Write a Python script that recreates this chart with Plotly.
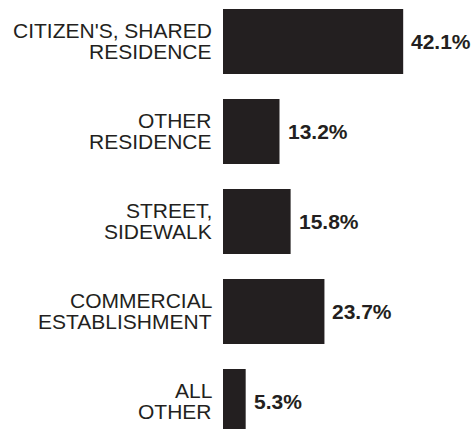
import plotly.graph_objects as go

categories = ["CITIZEN'S, SHARED\nRESIDENCE", "OTHER\nRESIDENCE", "STREET,\nSIDEWALK",
              "COMMERCIAL\nESTABLISHMENT", "ALL\nOTHER"]
values = [42.1, 13.2, 15.8, 23.7, 5.3]
value_labels = ["42.1%", "13.2%", "15.8%", "23.7%", "5.3%"]

BAR = "#231f20"
FONT = "Liberation Sans, Arial, sans-serif"
pos = list(range(len(categories)))

fig = go.Figure(go.Bar(
    x=values, y=pos, orientation="h", width=0.722,
    marker=dict(color=BAR, line=dict(width=0)),
    hoverinfo="skip",
))

ann = []
LS = 21
for i, (cat, v, vl) in enumerate(zip(categories, values, value_labels)):
    lines = cat.split("\n")
    n = len(lines)
    for j, line in enumerate(lines):
        shift = ((n - 1) / 2 - j) * LS
        ann.append(dict(x=0, y=i, xref="x", yref="y", text=line, showarrow=False,
                        xanchor="right", yanchor="middle", xshift=-9, yshift=shift,
                        font=dict(family=FONT, size=21, color=BAR)))
    ann.append(dict(x=v, y=i, xref="x", yref="y", text="<b>" + vl + "</b>", showarrow=False,
                    xanchor="left", yanchor="middle", xshift=6,
                    font=dict(family=FONT, size=21, color=BAR)))

fig.update_layout(
    width=472, height=429,
    margin=dict(l=223, r=35, t=0, b=0),
    paper_bgcolor="white", plot_bgcolor="white",
    showlegend=False,
    xaxis=dict(range=[0, 50], visible=False, fixedrange=True),
    yaxis=dict(range=[4.306, -0.461], visible=False, fixedrange=True),
    annotations=ann,
)

fig.write_html("out.html", config={"displayModeBar": False, "staticPlot": True},
               post_script="document.body.style.margin='0';document.body.style.overflow='hidden';")
